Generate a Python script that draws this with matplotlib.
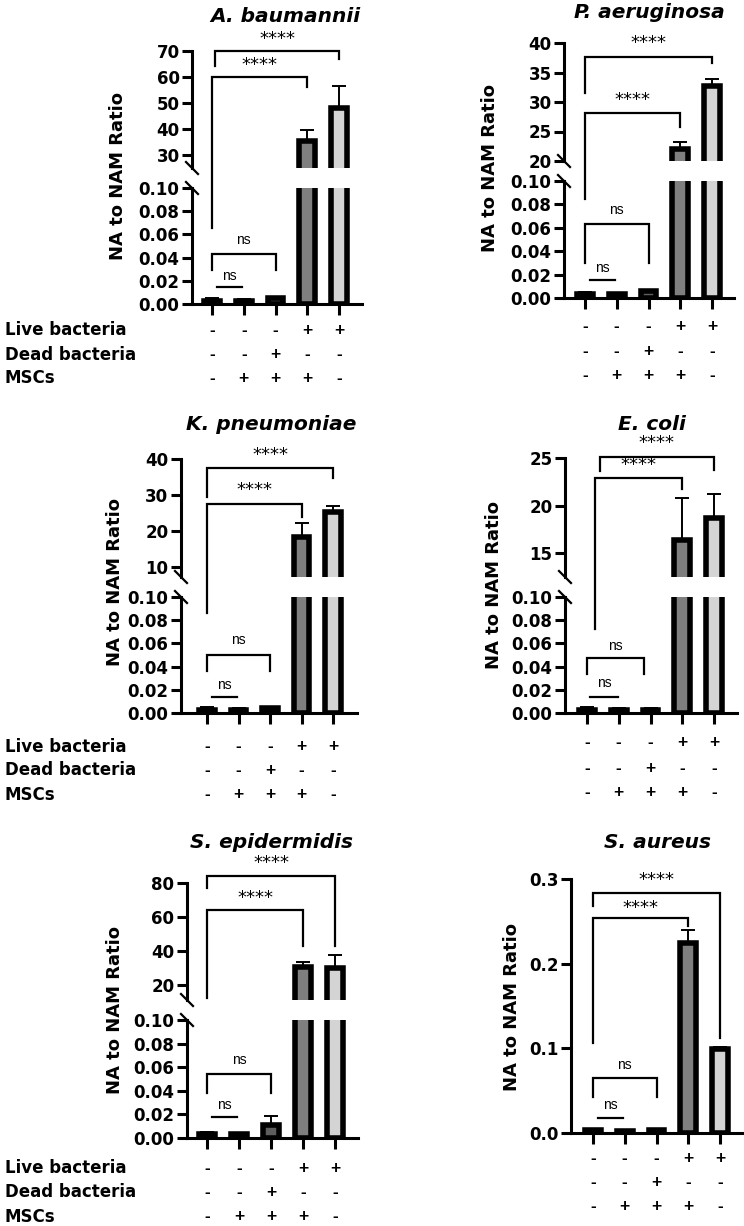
import matplotlib
matplotlib.use("Agg")
import matplotlib.pyplot as plt
from matplotlib.lines import Line2D
import matplotlib.transforms as mtransforms

# ---------------- data ----------------
titles = ["A. baumannii", "P. aeruginosa", "K. pneumoniae", "E. coli", "S. epidermidis", "S. aureus"]

mean_ab = [0.003, 0.003, 0.005, 35.5, 48.0]
err_ab = [0.002, 0.001, 0.0005, 4.0, 8.5]
mean_pa = [0.003, 0.003, 0.006, 22.0, 32.7]
err_pa = [0.002, 0.001, 0.0005, 1.3, 1.2]
mean_kp = [0.003, 0.003, 0.004, 18.3, 25.3]
err_kp = [0.002, 0.001, 0.0005, 3.9, 1.7]
mean_ec = [0.003, 0.003, 0.003, 16.4, 18.7]
err_ec = [0.002, 0.001, 0.001, 4.4, 2.5]
mean_se = [0.003, 0.003, 0.011, 30.6, 30.3]
err_se = [0.002, 0.001, 0.008, 2.9, 7.3]
mean_sa = [0.003, 0.002, 0.004, 0.224, 0.099]
err_sa = [0.001, 0.001, 0.001, 0.016, 0.002]

means = [mean_ab, mean_pa, mean_kp, mean_ec, mean_se, mean_sa]
errs = [err_ab, err_pa, err_kp, err_ec, err_se, err_sa]

row_names = ["Live bacteria", "Dead bacteria", "MSCs"]
live = ["-", "-", "-", "+", "+"]
dead = ["-", "-", "+", "-", "-"]
mscs = ["-", "+", "+", "+", "-"]
sign_rows = [live, dead, mscs]

upper_ticks = [[30, 40, 50, 60, 70], [20, 25, 30, 35, 40], [10, 20, 30, 40], [15, 20, 25], [20, 40, 60, 80], None]
lower_ticks = [0.00, 0.02, 0.04, 0.06, 0.08, 0.10]
single_ticks = [0.0, 0.1, 0.2, 0.3]

# significance annotations: (label, x0, x1, bar_y, left_leg_end, right_leg_end, text_y)
# y entries are (value, segment) with segment 'u' (upper) or 'l' (lower)
sig_ab = [("****", 0, 3, (60.0, 'u'), (0.0655, 'l'), (56.2, 'u'), (64.6, 'u')),
          ("****", 0.1, 4, (70.0, 'u'), (64.2, 'u'), (66.9, 'u'), (74.6, 'u')),
          ("ns", 0, 2, (0.043, 'l'), (0.029, 'l'), (0.029, 'l'), (0.055, 'l')),
          ("ns", 0.15, 0.95, (0.0147, 'l'), None, None, (0.024, 'l'))]
sig_pa = [("****", 0, 4, (37.6, 'u'), (31.5, 'u'), (36.6, 'u'), (40.0, 'u')),
          ("****", 0, 3, (28.1, 'u'), (0.085, 'l'), (25.8, 'u'), (30.3, 'u')),
          ("ns", 0, 2, (0.063, 'l'), (0.030, 'l'), (0.030, 'l'), (0.075, 'l')),
          ("ns", 0.15, 0.95, (0.0154, 'l'), None, None, (0.026, 'l'))]
sig_kp = [("****", 0, 4, (37.5, 'u'), (29.4, 'u'), (34.7, 'u'), (41.1, 'u')),
          ("****", 0, 3, (27.5, 'u'), (0.086, 'l'), (23.9, 'u'), (31.4, 'u')),
          ("ns", 0, 2, (0.050, 'l'), (0.036, 'l'), (0.036, 'l'), (0.063, 'l')),
          ("ns", 0.15, 0.95, (0.0138, 'l'), None, None, (0.024, 'l'))]
sig_ec = [("****", 0.4, 4, (25.1, 'u'), (23.6, 'u'), (23.7, 'u'), (26.6, 'u')),
          ("****", 0.25, 3, (22.9, 'u'), (0.072, 'l'), (21.7, 'u'), (24.3, 'u')),
          ("ns", 0, 1.8, (0.047, 'l'), (0.034, 'l'), (0.034, 'l'), (0.058, 'l')),
          ("ns", 0.1, 0.98, (0.0138, 'l'), None, None, (0.026, 'l'))]
sig_se = [("****", 0, 4, (84.1, 'u'), (77.1, 'u'), (42.9, 'u'), (91.8, 'u')),
          ("****", 0, 3, (64.1, 'u'), (12.4, 'u'), (42.9, 'u'), (71.2, 'u')),
          ("ns", 0, 2, (0.054, 'l'), (0.038, 'l'), (0.038, 'l'), (0.066, 'l')),
          ("ns", 0.15, 0.95, (0.0178, 'l'), None, None, (0.028, 'l'))]
sig_sa = [("****", 0, 4, (0.283, 'u'), (0.268, 'u'), (0.112, 'u'), (0.299, 'u')),
          ("****", 0, 3, (0.254, 'u'), (0.106, 'u'), (0.244, 'u'), (0.266, 'u')),
          ("ns", 0, 2, (0.065, 'u'), (0.0425, 'u'), (0.0425, 'u'), (0.080, 'u')),
          ("ns", 0.15, 0.95, (0.0177, 'u'), None, None, (0.033, 'u'))]
sigs = [sig_ab, sig_pa, sig_kp, sig_ec, sig_se, sig_sa]

# ---------------- layout (pixels) ----------------
W, H = 744, 1226
layouts = [
    dict(spine=192, bar0=212, bar4=339, end=362, upper=(51, 168), ulim=(25, 70), lower=(188, 304),
         title=(285, 16), ylab=(118, 176), rows=(330, 355, 378), rowlabels=True),
    dict(spine=564, bar0=585, bar4=712, end=734, upper=(43, 161), ulim=(20, 40), lower=(181, 298),
         title=(649, 13), ylab=(490, 168), rows=(327, 351, 375), rowlabels=False),
    dict(spine=181, bar0=207, bar4=333, end=357, upper=(459, 577), ulim=(7.2, 40), lower=(597, 713),
         title=(271, 425), ylab=(115, 582), rows=(747, 770, 795), rowlabels=True),
    dict(spine=565, bar0=587, bar4=714, end=737, upper=(458, 577), ulim=(12.5, 25), lower=(597, 713),
         title=(652, 425), ylab=(494, 585), rows=(743, 768, 793), rowlabels=False),
    dict(spine=187, bar0=207, bar4=335, end=358, upper=(883, 1000), ulim=(11.2, 80), lower=(1020, 1138),
         title=(272, 843), ylab=(115, 1010), rows=(1168, 1192, 1217), rowlabels=True),
    dict(spine=571, bar0=593, bar4=720, end=742, upper=None, single=(879, 1133), slim=(0, 0.3),
         title=(657, 843), ylab=(512, 1007), rows=(1158, 1183, 1207), rowlabels=False),
]

bar_colors = ["white", "white", "#5e5e5e", "#7f7f7f", "#d4d4d4"]
BOLD = "DejaVu Sans"
SIGNFONT = "Liberation Sans"

fig = plt.figure(figsize=(W / 100, H / 100), dpi=100)
fig.patch.set_facecolor("white")


def fx(px):
    return px / W


def fy(py):
    return 1 - py / H


def make_axes(lay, top, bottom):
    sp = (lay["bar4"] - lay["bar0"]) / 4.0
    rect = [fx(lay["spine"]), fy(bottom), (lay["end"] - lay["spine"]) / W, (bottom - top) / H]
    ax = fig.add_axes(rect)
    ax.set_xlim(-(lay["bar0"] - lay["spine"]) / sp, 4 + (lay["end"] - lay["bar4"]) / sp)
    ax.patch.set_alpha(0)
    for s in ["top", "right"]:
        ax.spines[s].set_visible(False)
    for s in ["left", "bottom"]:
        ax.spines[s].set_linewidth(2.2)
    ax.tick_params(axis="y", length=7.5, width=2.2, pad=1.5, labelsize=12)
    ax.tick_params(axis="x", length=8, width=2.2, labelbottom=False)
    for lab in ax.get_yticklabels():
        lab.set_fontweight("bold")
    return ax


def draw_bars(ax, m, e):
    xs = list(range(len(m)))
    ax.bar(xs, m, width=0.5, color=bar_colors, edgecolor="black", linewidth=4, zorder=2)
    ax.errorbar(xs, m, yerr=[[0] * len(e), e], fmt="none", ecolor="black",
                elinewidth=1.4, capsize=5, capthick=1.4, zorder=3)


def style_ticklabels(ax, fmt):
    ax.yaxis.set_major_formatter(matplotlib.ticker.FormatStrFormatter(fmt))
    for lab in ax.get_yticklabels():
        lab.set_fontweight("bold")
        lab.set_family(BOLD)


for i, lay in enumerate(layouts):
    m, e = means[i], errs[i]
    if lay["upper"] is not None:
        axu = make_axes(lay, *lay["upper"])
        axl = make_axes(lay, *lay["lower"])
        axu.spines["bottom"].set_visible(False)
        axu.tick_params(axis="x", bottom=False)
        axu.set_ylim(*lay["ulim"])
        axu.set_yticks(upper_ticks[i])
        axl.set_ylim(0, 0.10)
        axl.set_yticks(lower_ticks)
        draw_bars(axu, m, e)
        draw_bars(axl, m, e)
        style_ticklabels(axu, "%d")
        style_ticklabels(axl, "%.2f")
        axl.set_xticks(range(5))
        segs = {"u": axu, "l": axl}
        # break marks
        sx = lay["spine"]
        for yb in (lay["upper"][1], lay["lower"][0]):
            fig.add_artist(Line2D([fx(sx - 6), fx(sx + 6)], [fy(yb - 6), fy(yb + 6)],
                                  transform=fig.transFigure, color="black", linewidth=1.6))
        axx = axl
    else:
        ax = make_axes(lay, *lay["single"])
        ax.set_ylim(*lay["slim"])
        ax.set_yticks(single_ticks)
        draw_bars(ax, m, e)
        style_ticklabels(ax, "%.1f")
        ax.set_xticks(range(5))
        segs = {"u": ax, "l": ax}
        axx = ax

    inv = fig.transFigure.inverted()

    def pt(x, yv):
        val, seg = yv
        return inv.transform(segs[seg].transData.transform((x, val)))

    for lab, x0, x1, yb, yl, yr, ty in sigs[i]:
        p0 = pt(x0, yb)
        p1 = pt(x1, yb)
        xs_ = [p0[0], p1[0]]
        ys_ = [p0[1], p1[1]]
        if yl is not None:
            pl = pt(x0, yl)
            pr = pt(x1, yr)
            xs_ = [pl[0], p0[0], p1[0], pr[0]]
            ys_ = [pl[1], p0[1], p1[1], pr[1]]
        fig.add_artist(Line2D(xs_, ys_, transform=fig.transFigure, color="black",
                              linewidth=1.6, solid_joinstyle="miter"))
        tp = pt((x0 + x1) / 2.0, ty)
        if lab == "ns":
            fig.text(tp[0], tp[1], lab, ha="center", va="center", fontsize=10,
                     family=SIGNFONT)
        else:
            fig.text(tp[0], tp[1], lab, ha="center", va="center", fontsize=13,
                     family=BOLD)

    # title & y label
    fig.text(fx(lay["title"][0]), fy(lay["title"][1]), titles[i], ha="center", va="center",
             fontsize=14.5, fontweight="bold", fontstyle="italic", family=BOLD)
    fig.text(fx(lay["ylab"][0]), fy(lay["ylab"][1]), "NA to NAM Ratio", rotation=90,
             ha="center", va="center", fontsize=13, fontweight="bold", family=BOLD)

    # condition table
    blend = mtransforms.blended_transform_factory(axx.transData, fig.transFigure)
    for r, (row, ypx) in enumerate(zip(sign_rows, lay["rows"])):
        for x, s in enumerate(row):
            fig.text(x, fy(ypx), s, transform=blend, ha="center", va="center",
                     fontsize=12.5, fontweight="bold", family=SIGNFONT)
        if lay["rowlabels"]:
            fig.text(fx(5), fy(ypx), row_names[r], ha="left", va="center",
                     fontsize=12, fontweight="bold", family=BOLD)

fig.savefig("out.png", dpi=100, facecolor="white")
